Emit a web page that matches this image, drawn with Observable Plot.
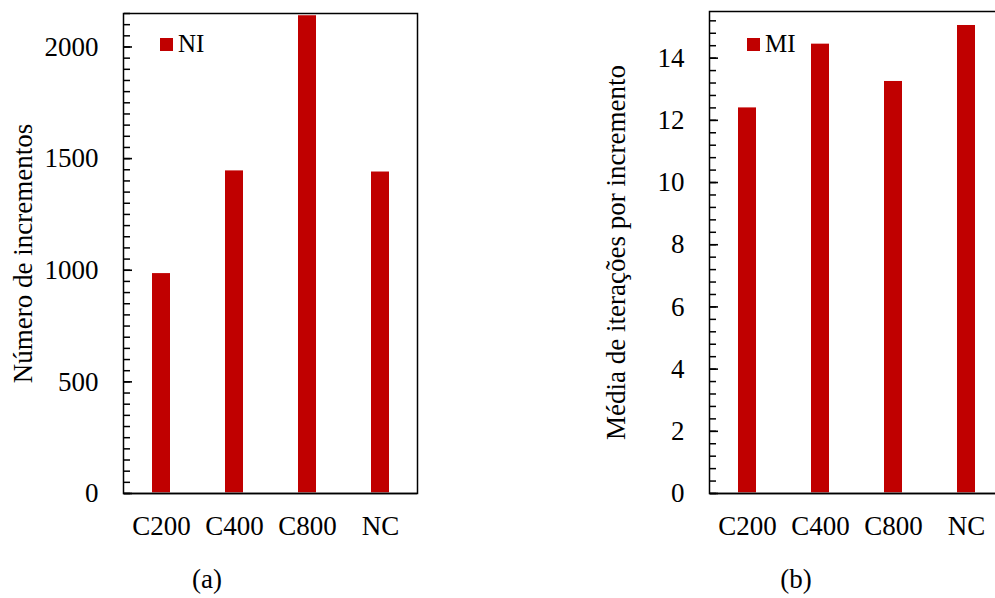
<!DOCTYPE html>
<html><head><meta charset="utf-8">
<script src="https://cdn.jsdelivr.net/npm/d3@7"></script>
<script src="https://cdn.jsdelivr.net/npm/@observablehq/plot@0.6"></script>
<style>
body{margin:0;background:#fff;}
#wrap{position:relative;width:995px;height:598px;overflow:hidden;background:#fff;font-family:"Times New Roman","Liberation Serif",serif;color:#000;}
#wrap svg{position:absolute;top:0;max-width:none !important;}
.sw{position:absolute;width:13px;height:13px;background:#c00000;}
.lt{position:absolute;font-size:25px;line-height:25px;white-space:nowrap;}
.cap{position:absolute;font-size:27px;line-height:27px;transform:translateX(-50%);white-space:nowrap;}
</style></head><body><div id="wrap"></div>
<script>
const categories = ["C200", "C400", "C800", "NC"];
const incrementos = [985, 1445, 2140, 1440];
const iteracoes = [12.4, 14.45, 13.25, 15.05];
const ticksA = [0, 500, 1000, 1500, 2000];
const ticksB = [0, 2, 4, 6, 8, 10, 12, 14];
const labelA = "Número de incrementos";
const labelB = "Média de iterações por incremento";
const legendA = "NI";
const legendB = "MI";
const captionA = "(a)";
const captionB = "(b)";

const FONT = '"Times New Roman","Liberation Serif",serif';
const RED = "#c00000";

function panel({values, domain, major, minorStep, label, width, ml, mr, mt, labelOffset, left}) {
  const data = categories.map((c, i) => ({c, v: values[i]}));
  const n = Math.floor(domain[1] / minorStep + 1e-9);
  const minor = d3.range(0, n + 1).map(i => +(i * minorStep).toFixed(4)).filter(v => v <= domain[1]);
  const inner = width - ml - mr;
  const svg = Plot.plot({
    width, height: 598,
    marginLeft: ml, marginRight: mr, marginTop: mt, marginBottom: 105,
    style: {fontFamily: FONT, fontSize: "27px", color: "#000", background: "transparent", overflow: "visible"},
    x: {domain: categories, paddingInner: 0.755, paddingOuter: 0.3775, label: null},
    y: {domain, label: null},
    marks: [
      Plot.barY(data, {x: "c", y: "v", fill: RED}),
      Plot.ruleY([0], {stroke: "#a6a6a6", strokeWidth: 2.5}),
      Plot.frame({stroke: "#000", strokeWidth: 1.5}),
      // inward tick marks: right-anchored ticks shifted onto the left edge
      Plot.axisY(minor, {anchor: "right", dx: -inner, tickSize: 6, tickFormat: () => "", label: null, strokeWidth: 1.5}),
      Plot.axisY(major, {anchor: "right", dx: -inner, tickSize: 8, tickFormat: () => "", label: null, strokeWidth: 1.6}),
      Plot.axisY(major, {anchor: "left", tickSize: 0, tickPadding: 25, tickFormat: d3.format("d"), label, labelAnchor: "center", labelOffset, labelArrow: "none", fontSize: 27}),
      Plot.axisX({tickSize: 0, tickPadding: 22, fontSize: 27, label: null})
    ]
  });
  svg.style.left = left + "px";
  return svg;
}

const wrap = document.getElementById("wrap");
wrap.appendChild(panel({values: incrementos, domain: [0, 2150], major: ticksA, minorStep: 50, label: labelA,
  width: 440, ml: 123, mr: 23, mt: 13, labelOffset: 111, left: 0}));
wrap.appendChild(panel({values: iteracoes, domain: [0, 15.5], major: ticksB, minorStep: 0.4, label: labelB,
  width: 520, ml: 209, mr: 17, mt: 11, labelOffset: 104, left: 500}));

function add(cls, text, styles) {
  const d = document.createElement("div");
  d.className = cls;
  if (text) d.textContent = text;
  Object.assign(d.style, styles);
  wrap.appendChild(d);
}
add("sw", "", {left: "160px", top: "38px"});
add("lt", legendA, {left: "178px", top: "31px"});
add("sw", "", {left: "747px", top: "38px"});
add("lt", legendB, {left: "765px", top: "31px"});
add("cap", captionA, {left: "207px", top: "566px"});
add("cap", captionB, {left: "796px", top: "566px"});
</script>
</body></html>
